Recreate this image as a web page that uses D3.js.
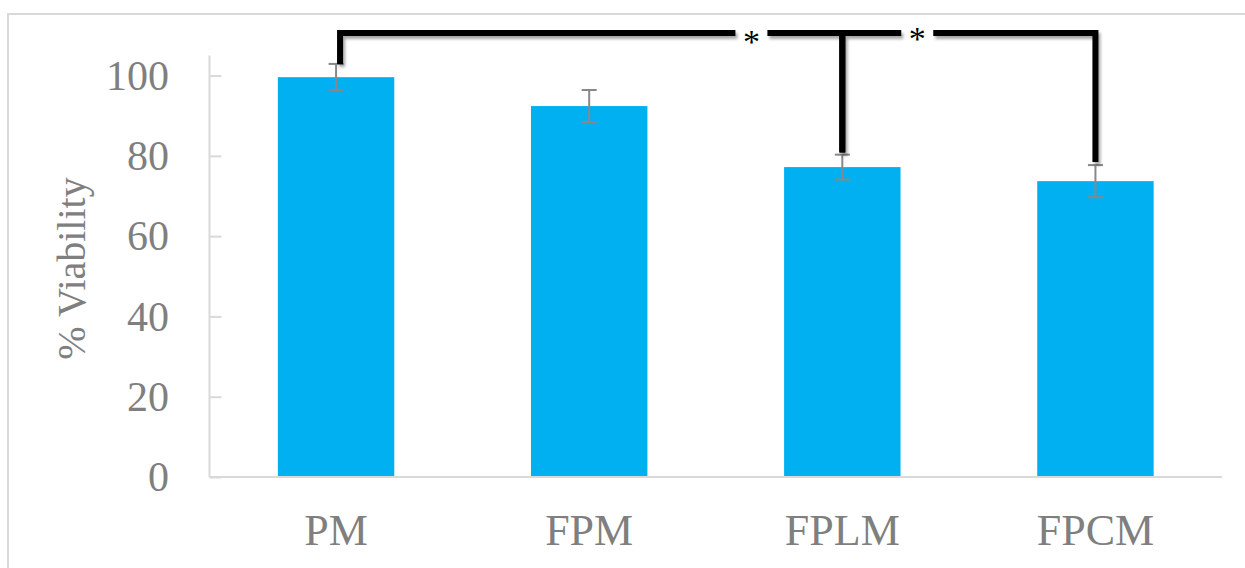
<!DOCTYPE html>
<html>
<head>
<meta charset="utf-8">
<script src="https://cdn.jsdelivr.net/npm/d3@7"></script>
<style>
  html, body { margin: 0; padding: 0; background: #fff; }
  svg { display: block; }
</style>
</head>
<body>
<svg id="chart" width="1245" height="568"></svg>
<script>
// Cell viability per formulation (mean ± SD)
const categories = ["PM", "FPM", "FPLM", "FPCM"];
const viability  = [99.6, 92.4, 77.2, 73.7];
const errors     = [3.3, 4.0, 3.1, 4.0];
const yTicks     = [0, 20, 40, 60, 80, 100];
const yLabel     = "% Viability";

// Significance brackets: star placed at a fraction of the span between the two bars
const brackets = [
  { from: "PM",   to: "FPLM", starAt: 0.819, label: "*" },
  { from: "FPLM", to: "FPCM", starAt: 0.296, label: "*" }
];
const bracketLevel = 110.6;

const svg = d3.select("#chart");
const W = 1245, H = 568;
const axisGray = "#d9d9d9";
const textGray = "#7f7f7f";
const barBlue = "#00b0f0";
const serif = "'Liberation Serif', 'Times New Roman', serif";

// chart frame
svg.append("rect")
  .attr("x", 8).attr("y", 14)
  .attr("width", W + 20).attr("height", H + 20)
  .attr("fill", "none").attr("stroke", axisGray).attr("stroke-width", 2);

const x = d3.scaleBand()
  .domain(categories)
  .range([209.5, 1222])
  .paddingInner(0.54)
  .paddingOuter(0.27);

const y = d3.scaleLinear()
  .domain([0, 105])
  .range([477, 55.5]);

// drop shadow for the bracket lines
const defs = svg.append("defs");
const f = defs.append("filter").attr("id", "soft-shadow")
  .attr("x", "-20%").attr("y", "-20%").attr("width", "140%").attr("height", "140%");
f.append("feDropShadow")
  .attr("dx", 2).attr("dy", 3).attr("stdDeviation", 1.6)
  .attr("flood-color", "#000").attr("flood-opacity", 0.35);

// y axis
const yAxis = d3.axisRight(y).tickValues(yTicks).tickSize(12).tickFormat("");
const gy = svg.append("g").attr("transform", "translate(209.5,0)").call(yAxis);
gy.select(".domain").remove();
gy.selectAll(".tick line").attr("stroke", axisGray).attr("stroke-width", 2);
svg.append("line")
  .attr("x1", 209.5).attr("x2", 209.5)
  .attr("y1", y(105)).attr("y2", y(0))
  .attr("stroke", axisGray).attr("stroke-width", 2);

svg.append("g").selectAll("text").data(yTicks).join("text")
  .attr("x", 169).attr("y", d => y(d))
  .attr("dy", "0.34em")
  .attr("text-anchor", "end")
  .attr("font-family", serif).attr("font-size", 42)
  .attr("fill", textGray)
  .text(d => d);

// y axis title
svg.append("text")
  .attr("transform", `translate(85, ${(175 + 362) / 2}) rotate(-90)`)
  .attr("text-anchor", "middle")
  .attr("font-family", serif).attr("font-size", 40)
  .attr("fill", textGray)
  .text(yLabel);

// bars
svg.append("g").selectAll("rect").data(categories).join("rect")
  .attr("x", d => x(d))
  .attr("y", (d, i) => y(viability[i]))
  .attr("width", x.bandwidth())
  .attr("height", (d, i) => y(0) - y(viability[i]))
  .attr("fill", barBlue);

// x axis line
svg.append("line")
  .attr("x1", 209.5).attr("x2", 1222)
  .attr("y1", y(0)).attr("y2", y(0))
  .attr("stroke", axisGray).attr("stroke-width", 2);

// x labels
svg.append("g").selectAll("text").data(categories).join("text")
  .attr("x", d => x(d) + x.bandwidth() / 2)
  .attr("y", 545)
  .attr("text-anchor", "middle")
  .attr("font-family", serif).attr("font-size", 44)
  .attr("fill", textGray)
  .text(d => d);

// error bars
const eb = svg.append("g").attr("stroke", "#888").attr("stroke-width", 2).attr("fill", "none");
categories.forEach((c, i) => {
  const cx = x(c) + x.bandwidth() / 2;
  const top = y(viability[i] + errors[i]);
  const bot = y(viability[i] - errors[i]);
  eb.append("line").attr("x1", cx).attr("x2", cx).attr("y1", top).attr("y2", bot);
  eb.append("line").attr("x1", cx - 7.5).attr("x2", cx + 7.5).attr("y1", top).attr("y2", top);
  eb.append("line").attr("x1", cx - 7.5).attr("x2", cx + 7.5).attr("y1", bot).attr("y2", bot);
});

// significance brackets
const center = c => x(c) + x.bandwidth() / 2;
const capTop = c => {
  const i = categories.indexOf(c);
  return y(viability[i] + errors[i]);
};
const yl = y(bracketLevel);
const gap = 16;
const gb = svg.append("g").attr("filter", "url(#soft-shadow)");
brackets.forEach((b, k) => {
  const xa = center(b.from) + (k === 0 ? 4 : 0);
  const xb = center(b.to);
  const xs = xa + (xb - xa) * b.starAt;
  const p = d3.path();
  p.moveTo(xa, capTop(b.from) - (k === 0 ? 0 : 2));
  p.lineTo(xa, yl);
  p.lineTo(xs - gap, yl);
  p.moveTo(xs + gap, yl);
  p.lineTo(xb, yl);
  p.lineTo(xb, capTop(b.to) - 3);
  gb.append("path")
    .attr("d", p.toString())
    .attr("fill", "none")
    .attr("stroke", "#000")
    .attr("stroke-width", 6)
    .attr("stroke-linejoin", "miter")
    .attr("stroke-linecap", "butt");
  svg.append("text")
    .attr("x", xs).attr("y", yl + (k === 0 ? 20 : 17))
    .attr("text-anchor", "middle")
    .attr("font-family", serif).attr("font-size", 34)
    .attr("fill", "#000")
    .text(b.label);
});
</script>
</body>
</html>
